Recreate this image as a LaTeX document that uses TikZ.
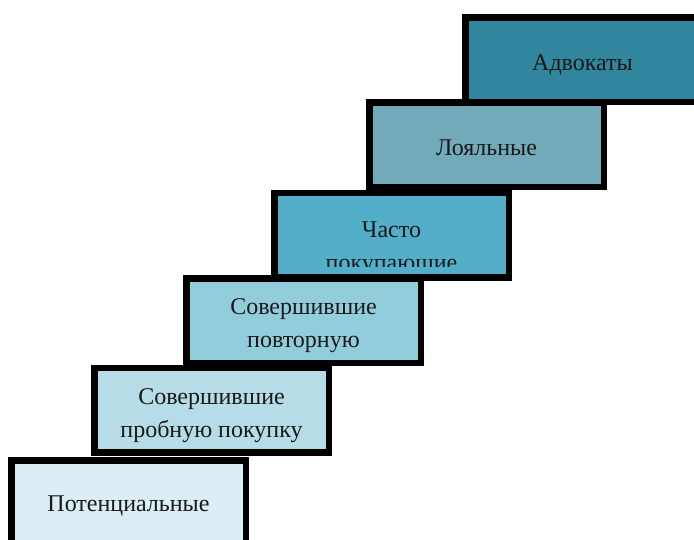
\documentclass[tikz,border=0pt]{standalone}
\usepackage{fontspec}
\setmainfont{Liberation Serif}
\definecolor{cA}{HTML}{DBEEF4}
\definecolor{cB}{HTML}{B6DDE7}
\definecolor{cC}{HTML}{92CDDC}
\definecolor{cD}{HTML}{53AECA}
\definecolor{cE}{HTML}{72AABA}
\definecolor{cF}{HTML}{31859C}
\tikzset{
  stepbox/.style={draw=black, line width=6.5pt, rectangle, inner sep=0pt,
    minimum width=234.5pt, minimum height=84.5pt},
  lbl/.style={anchor=base, inner sep=0pt, text=black!90,
    font=\fontsize{24}{33}\selectfont}
}
\begin{document}
\begin{tikzpicture}[x=1pt,y=-1pt]
\useasboundingbox (0,0) rectangle (694,539);
\clip (0,0) rectangle (694,539);
\node[stepbox, fill=cA] (b1) at (128.5,502.5) {};
\node[stepbox, fill=cB] (b2) at (211.5,410) {};
\node[stepbox, fill=cC] (b3) at (303.5,320.5) {};
\node[stepbox, fill=cD] (b4) at (391.5,235) {};
\node[stepbox, fill=cE] (b5) at (486.5,144.5) {};
\node[stepbox, fill=cF] (b6) at (582.5,59.5) {};
\node[lbl] (t1) at (128.5,511) {Потенциальные};
\node[lbl] (t2a) at (211.5,404) {Совершившие};
\node[lbl] (t2b) at (211.5,437) {пробную покупку};
\node[lbl] (t3a) at (303.5,314) {Совершившие};
\node[lbl] (t3b) at (303.5,347) {повторную};
\node[lbl] (t4a) at (391.5,237) {Часто};
\begin{scope}
\clip (277,196) rectangle (505,266);
\node[lbl] (t4b) at (391.5,270) {покупающие};
\end{scope}
\node[lbl] (t5) at (486.5,155) {Лояльные};
\node[lbl] (t6) at (582.5,70) {Адвокаты};
\end{tikzpicture}
\end{document}
